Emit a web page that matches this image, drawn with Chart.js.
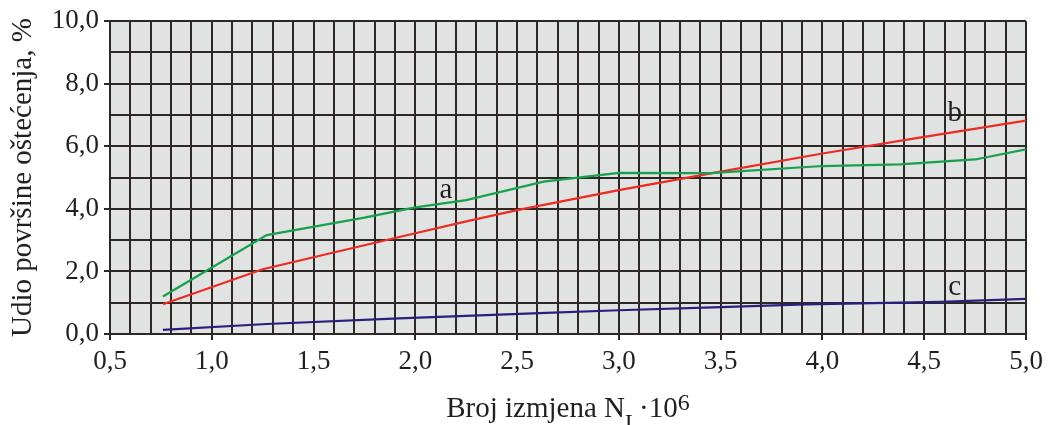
<!DOCTYPE html>
<html>
<head>
<meta charset="utf-8">
<script src="https://cdn.jsdelivr.net/npm/chart.js@4/dist/chart.umd.min.js"></script>
<style>
  html, body { margin: 0; padding: 0; background: #fff; }
  #wrap { width: 1050px; height: 425px; position: relative; }
</style>
</head>
<body>
<div id="wrap"><canvas id="c"></canvas></div>
<script>
// krivulja a (zelena)
const aX = [0.76, 1.27, 1.75, 2.0, 2.25, 2.63, 3.0, 3.45, 4.0, 4.38, 4.75, 5.0];
const aY = [1.2, 3.16, 3.72, 4.05, 4.28, 4.87, 5.15, 5.14, 5.37, 5.42, 5.58, 5.9];
// krivulja b (crvena)
const bX = [0.76, 1.25, 2.0, 2.25, 2.5, 3.0, 3.5, 4.0, 4.5, 5.0];
const bY = [0.95, 2.07, 3.22, 3.6, 3.96, 4.6, 5.19, 5.77, 6.3, 6.82];
// krivulja c (plava)
const cX = [0.76, 1.27, 1.92, 2.61, 3.0, 3.5, 3.92, 4.58, 5.0];
const cY = [0.13, 0.32, 0.5, 0.67, 0.76, 0.86, 0.95, 1.03, 1.12];

const curveNames = ['a', 'b', 'c'];
const nameX = [2.15, 4.65, 4.65];
const nameY = [4.6, 7.06, 1.5];

const INK = '#231f20';
const GRID = '#2d2725';
const SERIF = "'Liberation Serif', 'DejaVu Serif', serif";

const pts = (xs, ys) => xs.map((x, i) => ({x: x, y: ys[i]}));
const fmt = v => v.toFixed(1).replace('.', ',');
const isHalf = v => Math.abs(v * 2 - Math.round(v * 2)) < 1e-6;
const isEven = v => Math.abs(v / 2 - Math.round(v / 2)) < 1e-6;

const areaBg = {
  id: 'areaBg',
  beforeDraw(chart) {
    const {ctx, chartArea: a} = chart;
    ctx.save();
    ctx.fillStyle = '#e1e2e2';
    ctx.fillRect(a.left, a.top, a.right - a.left, a.bottom - a.top);
    ctx.restore();
  }
};

const texts = {
  id: 'texts',
  afterDraw(chart) {
    const {ctx, chartArea: a, scales} = chart;
    ctx.save();
    ctx.fillStyle = INK;
    // oznake krivulja
    ctx.font = '29px ' + SERIF;
    ctx.textAlign = 'center';
    ctx.textBaseline = 'middle';
    curveNames.forEach((n, i) => {
      ctx.fillText(n, scales.x.getPixelForValue(nameX[i]), scales.y.getPixelForValue(nameY[i]));
    });
    // naslov osi x s indeksom i eksponentom
    const big = '29px ' + SERIF;
    const parts = [
      {t: 'Broj izmjena N', f: big, dy: 0},
      {t: 'L', f: '23px ' + SERIF, dy: 13},
      {t: '\u00b710', f: big, dy: 0},
      {t: '6', f: '24px ' + SERIF, dy: -7}
    ];
    let w = 0;
    parts.forEach(p => { ctx.font = p.f; p.w = ctx.measureText(p.t).width; w += p.w; });
    let x = (a.left + a.right) / 2 - w / 2;
    const base = 417;
    ctx.textAlign = 'left';
    ctx.textBaseline = 'alphabetic';
    parts.forEach(p => { ctx.font = p.f; ctx.fillText(p.t, x, base + p.dy); x += p.w; });
    ctx.restore();
  }
};

new Chart(document.getElementById('c'), {
  type: 'line',
  data: {
    datasets: [
      {label: 'a', data: pts(aX, aY), borderColor: '#17a04d', borderWidth: 2.2, pointRadius: 0, tension: 0},
      {label: 'b', data: pts(bX, bY), borderColor: '#ec2b25', borderWidth: 2.2, pointRadius: 0, tension: 0},
      {label: 'c', data: pts(cX, cY), borderColor: '#2b1f7e', borderWidth: 2.2, pointRadius: 0, tension: 0}
    ]
  },
  options: {
    responsive: true,
    maintainAspectRatio: false,
    animation: false,
    layout: {padding: {left: 0, right: 24, top: 21, bottom: 0}},
    plugins: {legend: {display: false}, tooltip: {enabled: false}},
    scales: {
      x: {
        type: 'linear', min: 0.5, max: 5.0,
        afterFit: s => { s.height = 91; },
        border: {display: true, color: GRID, width: 2},
        grid: {color: GRID, lineWidth: 2, tickLength: 6,
               tickColor: c => (c.tick && isHalf(c.tick.value)) ? GRID : 'rgba(0,0,0,0)'},
        ticks: {stepSize: 0.1, autoSkip: false, maxRotation: 0, padding: 6, color: INK,
                font: {family: SERIF, size: 27},
                callback: v => isHalf(v) ? fmt(v) : ''}
      },
      y: {
        min: 0, max: 10,
        afterFit: s => { s.width = 110; },
        border: {display: true, color: GRID, width: 2},
        grid: {color: GRID, lineWidth: 2, tickLength: 6,
               tickColor: c => (c.tick && isEven(c.tick.value)) ? GRID : 'rgba(0,0,0,0)'},
        ticks: {stepSize: 1, autoSkip: false, padding: 5, color: INK,
                font: {family: SERIF, size: 27},
                callback: v => isEven(v) ? fmt(v) : ''},
        title: {display: true, text: 'Udio površine oštećenja, %', color: INK,
                font: {family: SERIF, size: 29}, padding: {top: 6, bottom: 0}}
      }
    }
  },
  plugins: [areaBg, texts]
});
</script>
</body>
</html>
